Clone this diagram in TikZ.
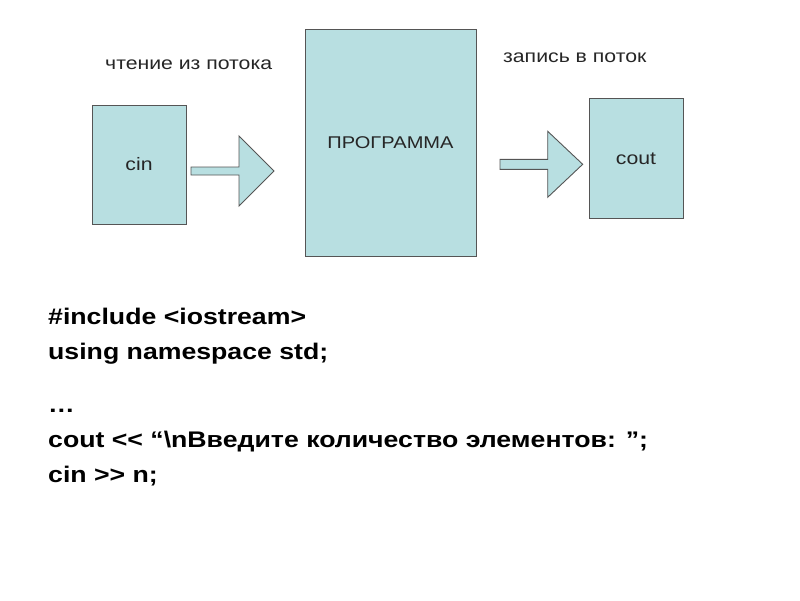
\documentclass[tikz,border=0pt]{standalone}
\usepackage{fontspec}
\setmainfont{Liberation Sans}[FakeStretch=1.18]
\usepackage{tikz}

\definecolor{boxfill}{RGB}{184,223,225}
\definecolor{boxline}{RGB}{85,85,85}

\begin{document}
\begin{tikzpicture}[x=1pt, y=-1pt,
    box/.style={draw=boxline, fill=boxfill, line width=0.9pt, inner sep=0pt,
        font=\fontsize{18}{22}\selectfont, text=black!85},
    blockarrow/.style={draw=boxline, fill=boxfill, line width=0.9pt, line join=miter},
    caption/.style={anchor=base west, inner sep=0pt,
        font=\fontsize{18}{22}\selectfont, text=black!85},
    code/.style={anchor=base west, inner sep=0pt,
        font=\fontsize{22.6}{26}\selectfont\bfseries}]
    \useasboundingbox (0,0) rectangle (800,600);

    % Boxes
    \node[box, minimum width=94pt, minimum height=119pt] (cin) at (139,164.5) {cin};
    \node[box, minimum width=171pt, minimum height=227pt, font=\fontsize{17}{21}\selectfont]
        (prog) at (390.5,142.6) {ПРОГРАММА};
    \node[box, minimum width=94pt, minimum height=120pt] (cout) at (636,158.3) {cout};

    % Captions
    \node[caption] (readcap) at (105,69) {чтение из потока};
    \node[caption] (writecap) at (503,62) {запись в поток};

    % Block arrows
    \coordinate (inA) at (191,171);
    \draw[blockarrow] (inA) ++(0,-4) -- ++(48,0) -- ++(0,-31) -- ++(35,35)
        -- ++(-35,35) -- ++(0,-31) -- ++(-48,0) -- cycle;
    \coordinate (outA) at (500,164.3);
    \draw[blockarrow] (outA) ++(0,-5) -- ++(47.7,0) -- ++(0,-28) -- ++(35,33)
        -- ++(-35,33) -- ++(0,-28) -- ++(-47.7,0) -- cycle;

    % Code
    \node[code] (line1) at (48,324) {\#include <iostream>};
    \node[code] (line2) at (48,359) {using namespace std;};
    \node[code] (line3) at (48,412) {…};
    \node[code] (line4) at (48,447) {cout <{}< “\textbackslash nВведите количество элементов: ”;};
    \node[code] (line5) at (48,482) {cin >{}> n;};
\end{tikzpicture}
\end{document}
